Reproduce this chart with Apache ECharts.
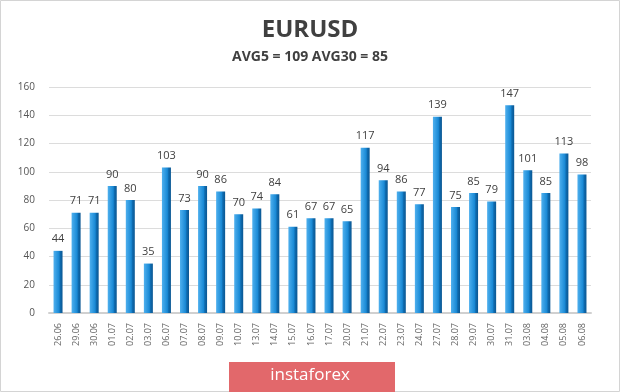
<!DOCTYPE html>
<html><head><meta charset="utf-8">
<script src="https://cdn.jsdelivr.net/npm/echarts@6/dist/echarts.min.js"></script>
<style>html,body{margin:0;padding:0;background:#fff}#c{width:620px;height:392px}</style>
</head><body><div id="c"></div>
<script>
const categories = ['26.06','29.06','30.06','01.07','02.07','03.07','06.07','07.07','08.07','09.07','10.07','13.07','14.07','15.07','16.07','17.07','20.07','21.07','22.07','23.07','24.07','27.07','28.07','29.07','30.07','31.07','03.08','04.08','05.08','06.08'];
const values = [44,71,71,90,80,35,103,73,90,86,70,74,84,61,67,67,65,117,94,86,77,139,75,85,79,147,101,85,113,98];
const titleText = 'EURUSD';
const subtitleText = 'AVG5 = 109 AVG30 = 85';
const watermark = 'instaforex';

const chart = echarts.init(document.getElementById('c'));
chart.setOption({
  animation: false,
  backgroundColor: '#fff',
  title: {
    text: titleText, subtext: subtitleText, left: 'center', top: 13, itemGap: 8,
    textStyle: {fontFamily: 'Open Sans', fontSize: 24, fontWeight: 'bold', color: '#404040'},
    subtextStyle: {fontFamily: 'Open Sans', fontSize: 14, fontWeight: 'bold', color: '#404040'}
  },
  grid: {left: 49, right: 29, top: 87, bottom: 79},
  xAxis: {
    type: 'category', data: categories,
    axisLine: {show: true, lineStyle: {color: '#d0d0d0', width: 2}},
    axisTick: {show: false},
    axisLabel: {rotate: 90, fontFamily: 'Open Sans', fontSize: 9, color: '#666', margin: 10}
  },
  yAxis: {
    type: 'value', min: 0, max: 160, interval: 20,
    axisLine: {show: false}, axisTick: {show: false},
    axisLabel: {fontFamily: 'Open Sans', fontSize: 10, color: '#555', margin: 14},
    splitLine: {lineStyle: {color: '#dcdcdc', width: 1}}
  },
  series: [{
    type: 'bar', data: values, barWidth: 9,
    itemStyle: {
      color: new echarts.graphic.LinearGradient(0, 0, 1, 0, [
        {offset: 0, color: '#4fb0ee'},
        {offset: 0.6, color: '#1a8ad6'},
        {offset: 0.75, color: '#0e6aae'},
        {offset: 1, color: '#0b5792'}
      ])
    },
    label: {show: true, position: 'top', distance: 6, fontFamily: 'Open Sans', fontSize: 11, color: '#404040'}
  }],
  graphic: [
    {type: 'rect', shape: {x: 0.5, y: 0.5, width: 619, height: 391}, style: {fill: 'none', stroke: '#d4d4d4', lineWidth: 1}, silent: true},
    {type: 'rect', shape: {x: 229, y: 362, width: 166, height: 31}, style: {fill: '#e2686b'}, silent: true},
    {type: 'text', left: 'center', top: 367, style: {text: watermark, fill: '#fff', fontFamily: 'Open Sans', fontSize: 17}, silent: true}
  ]
});
</script></body></html>
